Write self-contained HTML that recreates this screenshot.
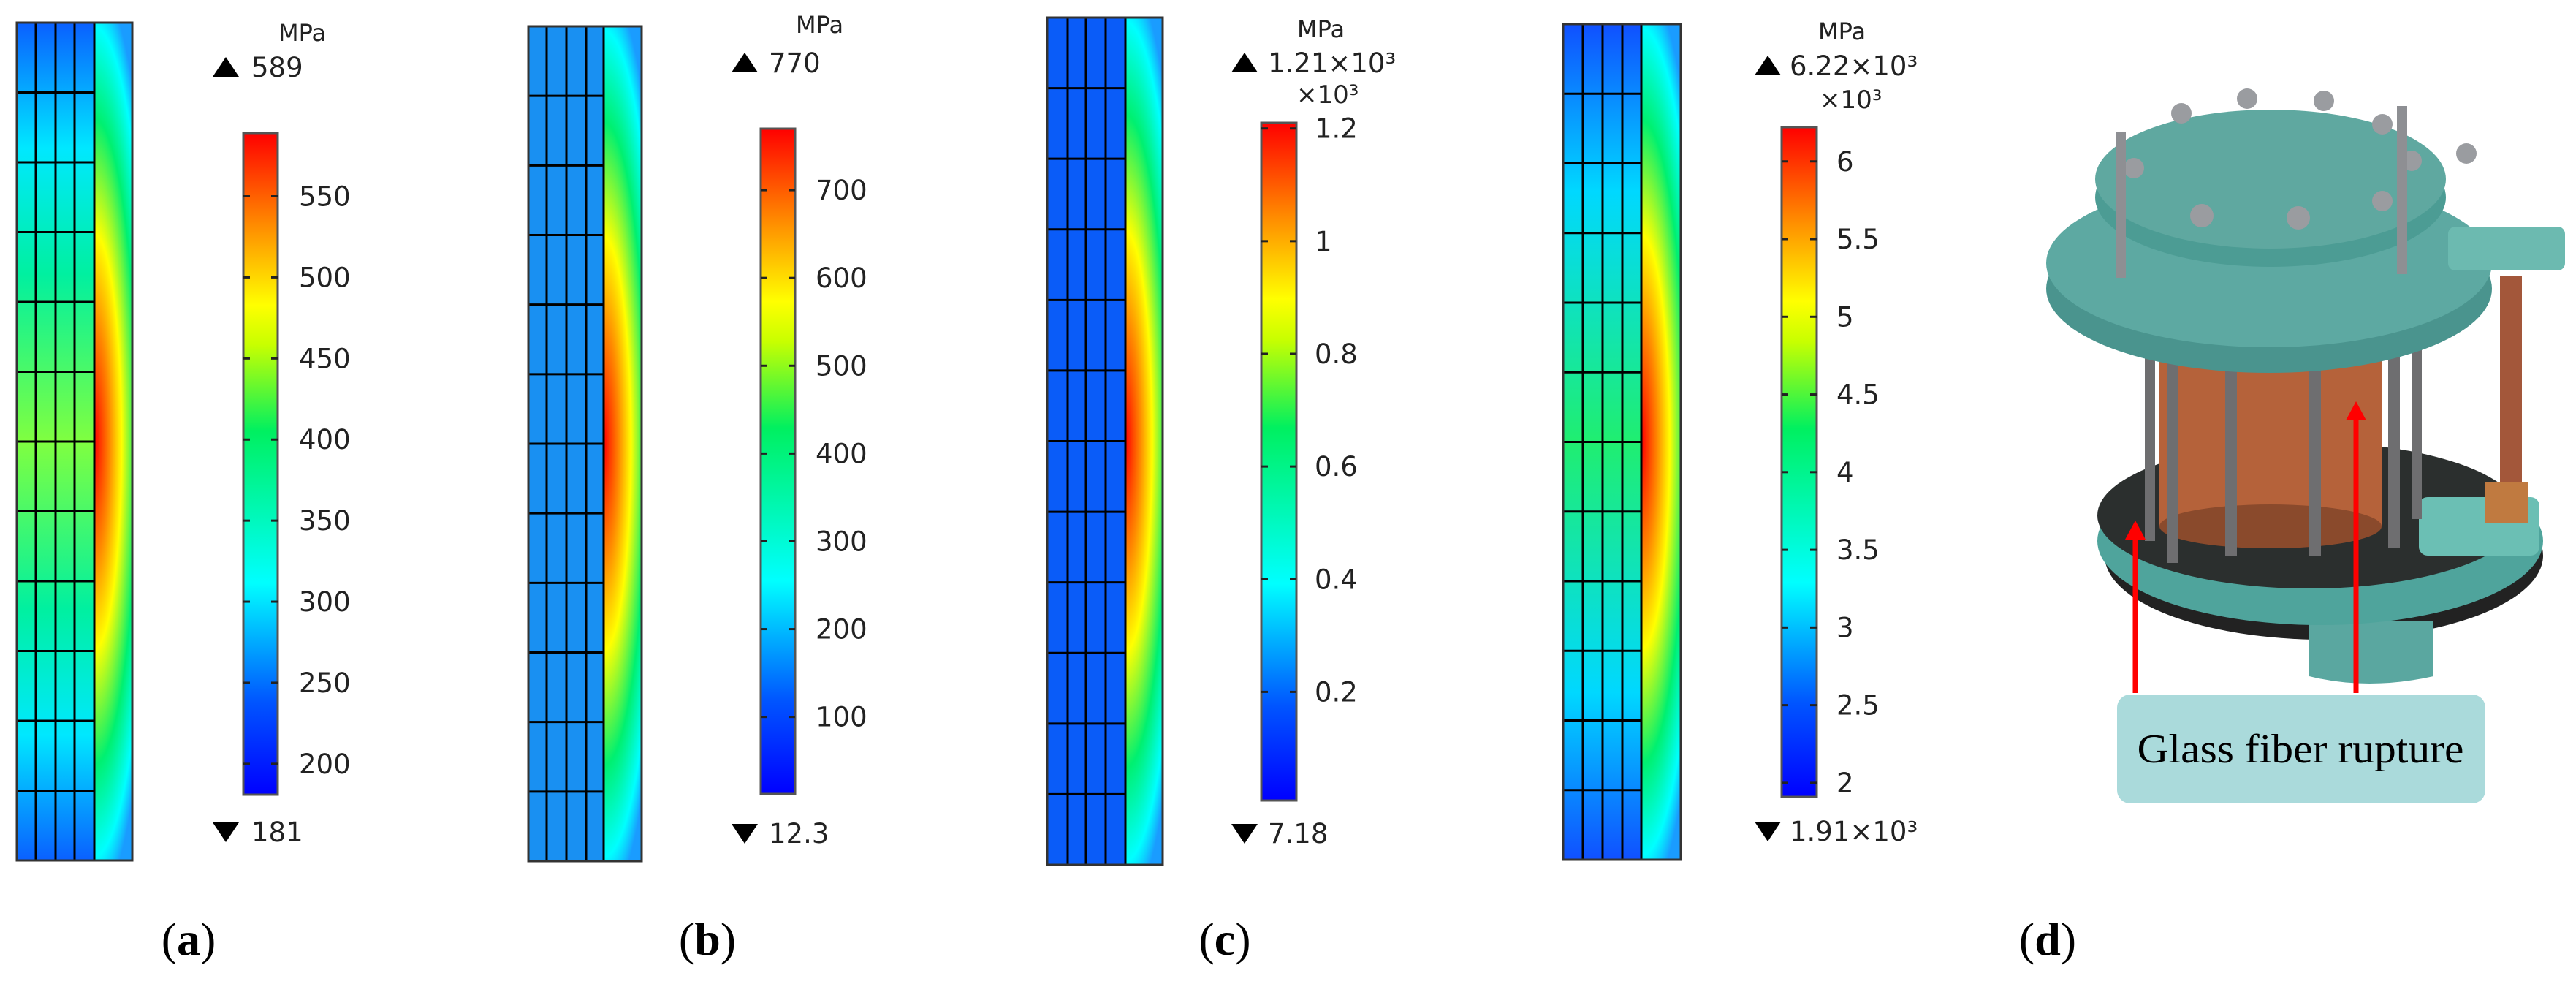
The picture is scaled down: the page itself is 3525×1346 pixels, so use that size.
<!DOCTYPE html>
<html><head><meta charset="utf-8">
<style>
html,body{margin:0;padding:0;background:#fff;}
#root{position:relative;width:3525px;height:1346px;overflow:hidden;background:#fff;}
svg text{font-family:"DejaVu Sans","Liberation Sans",sans-serif;}
.lab{font-family:"Liberation Serif",serif;font-size:64px;fill:#000;}
</style></head>
<body>
<div id="root">
<svg id="fig" width="3525" height="1346" viewBox="0 0 3525 1346" xmlns="http://www.w3.org/2000/svg">
<defs>
  <linearGradient id="cbar" x1="0" y1="1" x2="0" y2="0">
    <stop offset="0" stop-color="#0000ff"/>
    <stop offset="0.14" stop-color="#0055ff"/>
    <stop offset="0.32" stop-color="#00ffff"/>
    <stop offset="0.55" stop-color="#00f060"/>
    <stop offset="0.68" stop-color="#c8ff00"/>
    <stop offset="0.74" stop-color="#ffff00"/>
    <stop offset="0.86" stop-color="#ff8c00"/>
    <stop offset="1" stop-color="#ff0000"/>
  </linearGradient>
  <radialGradient id="strip" cx="0" cy="0.5" r="1" gradientTransform="translate(0,0.5) scale(1.6,0.55) translate(0,-0.5)">
    <stop offset="0" stop-color="#ff0000"/>
    <stop offset="0.25" stop-color="#ff8800"/>
    <stop offset="0.45" stop-color="#ffff00"/>
    <stop offset="0.7" stop-color="#00f070"/>
    <stop offset="0.9" stop-color="#00ffff"/>
    <stop offset="1" stop-color="#1a9cff"/>
  </radialGradient>
  <linearGradient id="gridA" x1="0" y1="0" x2="0" y2="1">
    <stop offset="0" stop-color="#0a60ff"/>
    <stop offset="0.15" stop-color="#00e8ff"/>
    <stop offset="0.3" stop-color="#00f0a0"/>
    <stop offset="0.5" stop-color="#80ff40"/>
    <stop offset="0.7" stop-color="#00f0a0"/>
    <stop offset="0.85" stop-color="#00e8ff"/>
    <stop offset="1" stop-color="#0a60ff"/>
  </linearGradient>
  <linearGradient id="gridD" x1="0" y1="0" x2="0" y2="1">
    <stop offset="0" stop-color="#1050ff"/>
    <stop offset="0.2" stop-color="#00d8ff"/>
    <stop offset="0.5" stop-color="#20ee70"/>
    <stop offset="0.8" stop-color="#00d8ff"/>
    <stop offset="1" stop-color="#1050ff"/>
  </linearGradient>
</defs>
<g id="panels"></g>

<!-- photo (d) -->
<g id="photo">
  <ellipse cx="3180" cy="760" rx="300" ry="115" fill="#222"/>
  <path d="M3160 850 L3160 925 Q3240 945 3330 925 L3330 850 Z" fill="#5aa7a0"/>
  <ellipse cx="3175" cy="740" rx="305" ry="115" fill="#4fa49c"/>
  <ellipse cx="3160" cy="705" rx="290" ry="100" fill="#2b2f2e"/>
  <rect x="3310" y="680" width="165" height="80" rx="12" fill="#6bbfb4"/>
  <rect x="2955" y="470" width="305" height="250" fill="#b5623a"/>
  <ellipse cx="3107" cy="720" rx="152" ry="30" fill="#8a4a2c"/>
  <g fill="#6e6e70">
    <rect x="2935" y="440" width="14" height="300"/><rect x="2965" y="440" width="16" height="330"/>
    <rect x="3045" y="440" width="16" height="320"/><rect x="3160" y="440" width="16" height="320"/>
    <rect x="3268" y="440" width="16" height="310"/><rect x="3300" y="420" width="14" height="290"/>
  </g>
  <rect x="3421" y="378" width="30" height="290" fill="#a3573a"/>
  <rect x="3400" y="660" width="60" height="55" fill="#c07a40"/>
  <ellipse cx="3105" cy="395" rx="305" ry="115" fill="#4a948e"/>
  <ellipse cx="3105" cy="360" rx="305" ry="115" fill="#5da9a2"/>
  <rect x="3350" y="310" width="160" height="60" rx="10" fill="#6cbab0"/>
  <ellipse cx="3107" cy="270" rx="240" ry="95" fill="#4c9c94"/>
  <ellipse cx="3107" cy="245" rx="240" ry="95" fill="#5fa8a0"/>
  <g fill="#9a9ca0">
    <circle cx="2920" cy="230" r="14"/><circle cx="2985" cy="155" r="14"/><circle cx="3075" cy="135" r="14"/>
    <circle cx="3180" cy="138" r="14"/><circle cx="3260" cy="170" r="14"/><circle cx="3300" cy="220" r="14"/>
    <circle cx="3013" cy="295" r="16"/><circle cx="3145" cy="298" r="16"/><circle cx="3260" cy="275" r="14"/>
    <circle cx="3375" cy="210" r="14"/>
  </g>
  <g fill="#8e8f93">
    <rect x="2895" y="180" width="14" height="200"/><rect x="3280" y="145" width="14" height="230"/>
  </g>
</g>
<rect x="2897" y="950" width="504" height="149" rx="18" fill="#aadadb"/>
<text x="3148" y="1043" text-anchor="middle" style="font-family:'Liberation Serif',serif;font-size:56px" textLength="447" lengthAdjust="spacingAndGlyphs" fill="#000">Glass fiber rupture</text>
<g>
  <line x1="2922" y1="948" x2="2922" y2="735" stroke="#ff0000" stroke-width="7"/>
  <polygon points="2908,738 2936,738 2922,712" fill="#ff0000"/>
</g>
<g>
  <line x1="3224" y1="948" x2="3224" y2="572" stroke="#ff0000" stroke-width="7"/>
  <polygon points="3210,575 3238,575 3224,549" fill="#ff0000"/>
</g>

<text class="lab" x="258" y="1306" text-anchor="middle">(<tspan font-weight="bold">a</tspan>)</text>
<text class="lab" x="968" y="1306" text-anchor="middle">(<tspan font-weight="bold">b</tspan>)</text>
<text class="lab" x="1676" y="1306" text-anchor="middle">(<tspan font-weight="bold">c</tspan>)</text>
<text class="lab" x="2802" y="1306" text-anchor="middle">(<tspan font-weight="bold">d</tspan>)</text>
</svg>
</div>
<script>
// colorbar data
const ticksA = [200,250,300,350,400,450,500,550];
const labelsA = ["200","250","300","350","400","450","500","550"];
const rangeA = [181, 589];
const ticksB = [100,200,300,400,500,600,700];
const labelsB = ["100","200","300","400","500","600","700"];
const rangeB = [12.3, 770];
const ticksC = [0.2,0.4,0.6,0.8,1,1.2];
const labelsC = ["0.2","0.4","0.6","0.8","1","1.2"];
const rangeC = [0.00718, 1.21];
const ticksD = [2,2.5,3,3.5,4,4.5,5,5.5,6];
const labelsD = ["2","2.5","3","3.5","4","4.5","5","5.5","6"];
const rangeD = [1.91, 6.22];
const maxLabels = ["589","770","1.21×10³","6.22×10³"];
const minLabels = ["181","12.3","7.18","1.91×10³"];

const NS = "http://www.w3.org/2000/svg";
const root = document.getElementById('panels');
function mk(tag, attrs, parent){
  const e = document.createElementNS(NS, tag);
  for (const k in attrs) e.setAttribute(k, attrs[k]);
  parent.appendChild(e); return e;
}
const layout = [
  {id:'a', bx:23, by:31, bw:158, bh:1146, div:129, cols:[49,76,102], grid:'url(#gridA)',
   cb:[333,182,47,905], lx:409, mpa:[381,45], tri:[309,92], mx:344, mny:1138, sup:false, ticks:ticksA, labels:labelsA, range:rangeA},
  {id:'b', bx:723, by:36, bw:155, bh:1142, div:826, cols:[748,775,802], grid:'#1990f2',
   cb:[1041,176,47,910], lx:1116, mpa:[1089,34], tri:[1019,86], mx:1052, mny:1140, sup:false, ticks:ticksB, labels:labelsB, range:rangeB},
  {id:'c', bx:1433, by:24, bw:158, bh:1159, div:1540, cols:[1461,1486,1513], grid:'#0a5cf8',
   cb:[1726,168,48,927], lx:1799, mpa:[1775,40], tri:[1703,86], mx:1735, mny:1140, sup:true, supy:129, supx:1774, ticks:ticksC, labels:labelsC, range:rangeC},
  {id:'d', bx:2139, by:33, bw:161, bh:1143, div:2246, cols:[2166,2193,2220], grid:'url(#gridD)',
   cb:[2438,174,48,916], lx:2513, mpa:[2488,43], tri:[2419,90], mx:2449, mny:1137, sup:true, supy:136, supx:2490, ticks:ticksD, labels:labelsD, range:rangeD}
];
layout.forEach((p, i) => {
  const g = mk('g', {}, root);
  
  
  // grid part
  const gl = mk('rect', {x:p.bx, y:p.by, width:p.div-p.bx, height:p.bh, fill:p.grid}, g);
  
  
  const st = mk('rect', {x:p.div, y:p.by, width:p.bx+p.bw-p.div, height:p.bh, fill:'url(#strip)'}, g);
  
  
  const rows = 12, rh = p.bh / rows;
  for (let r = 1; r < rows; r++) {
    const y = p.by + r * rh;
    const l = mk('line', {x1:p.bx, y1:y, x2:p.div, y2:y, stroke:'#000', 'stroke-width':3}, g);
    
    
  }
  p.cols.concat([p.div]).forEach(x => {
    const l = mk('line', {x1:x, y1:p.by, x2:x, y2:p.by+p.bh, stroke:'#000', 'stroke-width':3}, g);
    
    
  });
  const fr = mk('rect', {x:p.bx, y:p.by, width:p.bw, height:p.bh, fill:'none', stroke:'#333', 'stroke-width':3}, g);
  
  
  // colorbar
  const [cx, cy, cw, ch] = p.cb;
  const cb = mk('rect', {x:cx, y:cy, width:cw, height:ch, fill:'url(#cbar)', stroke:'#555', 'stroke-width':3}, g);
  
  
  const [vmin, vmax] = p.range;
  const yOf = v => cy + ch - (v - vmin) / (vmax - vmin) * ch;
  p.ticks.forEach((v, k) => {
    const y = yOf(v);
    const t1 = mk('line', {x1:cx, y1:y, x2:cx+9, y2:y, stroke:'#222', 'stroke-width':3}, g);
    
    
    const t2 = mk('line', {x1:cx+cw-9, y1:y, x2:cx+cw, y2:y, stroke:'#222', 'stroke-width':3}, g);
    
    
    const tx = mk('text', {x:p.lx, y:y+13, 'font-size':37, fill:'#222'}, g);
    tx.textContent = p.labels[k];
    
    
  });
  const mpa = mk('text', {x:p.mpa[0], y:p.mpa[1]+11, 'font-size':32, fill:'#222'}, g);
  mpa.textContent = 'MPa';
  
  
  const [tx0, ty0] = p.tri;
  const up = mk('polygon', {points:`${tx0-18},${ty0+13} ${tx0+18},${ty0+13} ${tx0},${ty0-14}`, fill:'#000'}, g);
  
  
  const mxT = mk('text', {x:p.mx, y:ty0+13, 'font-size':37, fill:'#222'}, g);
  mxT.textContent = maxLabels[i];
  
  
  const dn = mk('polygon', {points:`${tx0-18},${p.mny-13} ${tx0+18},${p.mny-13} ${tx0},${p.mny+14}`, fill:'#000'}, g);
  
  
  const mnT = mk('text', {x:p.mx, y:p.mny+13, 'font-size':37, fill:'#222'}, g);
  mnT.textContent = minLabels[i];
  
  
  if (p.sup) {
    const s = mk('text', {x:p.supx, y:p.supy+12, 'font-size':34, fill:'#222'}, g);
    s.textContent = '×10³';
    
    
  }
});
</script>
</body></html>
